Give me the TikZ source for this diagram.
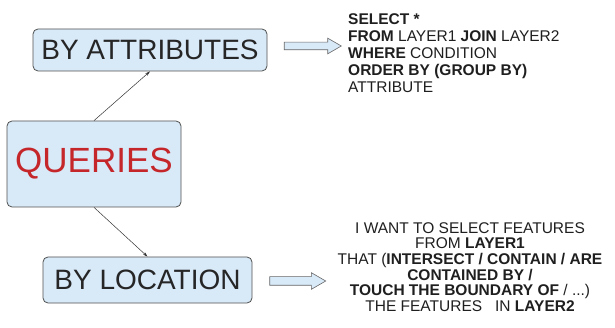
\documentclass[tikz,border=0pt]{standalone}
\usepackage{fontspec}
\setmainfont{Liberation Sans}
\usepackage{tikz}
\usetikzlibrary{arrows.meta,shapes.arrows}

\definecolor{boxblue}{HTML}{D8E9F8}
\definecolor{boxline}{HTML}{505050}
\definecolor{queryred}{HTML}{C4262A}

\begin{document}
\begin{tikzpicture}[x=1pt,y=-1pt,
  topic/.style={draw=boxline,line width=0.8pt,fill=boxblue,rounded corners=5pt,
    inner sep=0pt,text=black!85,font=\fontsize{28}{32}\selectfont},
  conn/.style={-{Stealth[length=5pt,width=3pt]},line width=0.5pt,black!80},
  blockarrow/.style={shape=single arrow,draw=gray!80!black,line width=0.6pt,fill=boxblue,
    inner sep=3.5pt,single arrow head extend=4pt,single arrow tip angle=60},
  sqltext/.style={inner sep=0pt,text=black!88,font=\fontsize{15.5}{17}\selectfont}]

\useasboundingbox (0,0) rectangle (615,328);

\node[topic,minimum width=234pt,minimum height=42pt] (attr) at (150,50) {BY ATTRIBUTES};
\node[topic,minimum width=174pt,minimum height=86pt,text=queryred,
  font=\fontsize{35}{40}\selectfont] (queries) at (94,164) {QUERIES};
\node[topic,minimum width=209pt,minimum height=46pt] (loc) at (147.5,280) {BY LOCATION};

\draw[conn] (queries.north) -- (attr.south);
\draw[conn] (queries.south) -- (loc.north);

\node[blockarrow,minimum height=57pt] (attrarrow) at (309.5,46) {};
\node[blockarrow,minimum height=56pt,inner sep=4pt] (locarrow) at (294,281) {};

\node[sqltext,anchor=north west,align=left] (attrsql) at (348,13)
  {\textbf{SELECT *}\\
   \textbf{FROM} LAYER1 \textbf{JOIN} LAYER2\\
   \textbf{WHERE} CONDITION\\
   \textbf{ORDER BY (GROUP BY)}\\
   ATTRIBUTE};

\node[sqltext,anchor=north,align=center,font=\fontsize{15.5}{15.7}\selectfont] (locsql) at (470,222)
  {I WANT TO SELECT FEATURES\\
   FROM \textbf{LAYER1}\\
   THAT (\textbf{INTERSECT / CONTAIN / ARE}\\
   \textbf{CONTAINED BY /}\\
   \textbf{TOUCH THE BOUNDARY OF} / ...)\\
   THE FEATURES~~~IN \textbf{LAYER2}};

\end{tikzpicture}
\end{document}
